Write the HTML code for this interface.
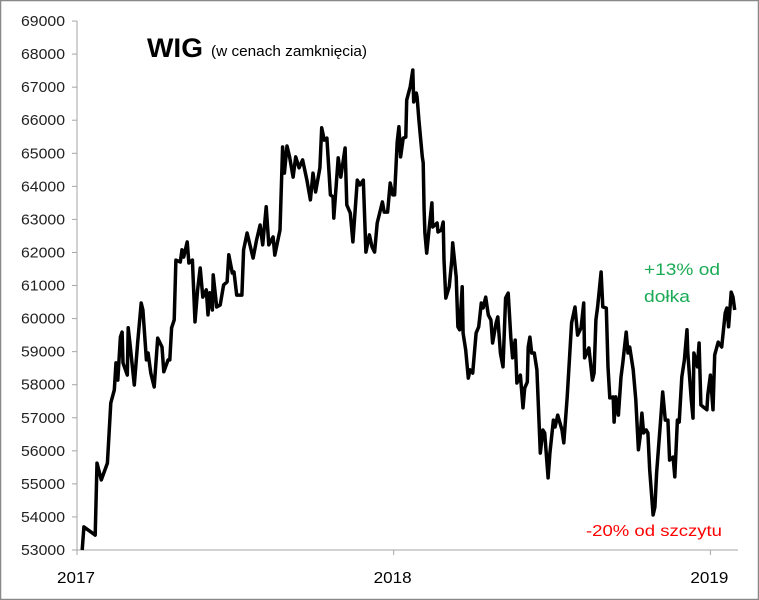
<!DOCTYPE html>
<html><head><meta charset="utf-8">
<style>
html,body{margin:0;padding:0;background:#fff;}
svg{display:block;font-family:"Liberation Sans",sans-serif;}
</style></head>
<body>
<svg width="759" height="600" viewBox="0 0 759 600">
<rect x="0.5" y="0.5" width="758" height="599" fill="#fff" stroke="#888" stroke-width="1.5"/>
<g id="axes"></g>
<text x="147" y="57" font-size="27" font-weight="bold" fill="#000" textLength="56" lengthAdjust="spacingAndGlyphs">WIG</text>
<text x="211" y="56" font-size="15" fill="#000" textLength="156" lengthAdjust="spacingAndGlyphs">(w cenach zamknięcia)</text>
<text x="644" y="275" font-size="17" fill="#1aaa55" textLength="76" lengthAdjust="spacingAndGlyphs">+13% od</text>
<text x="644" y="302" font-size="17" fill="#1aaa55" textLength="46" lengthAdjust="spacingAndGlyphs">dołka</text>
<text x="586" y="536" font-size="16" fill="#ff0000" textLength="136" lengthAdjust="spacingAndGlyphs">-20% od szczytu</text>
<path id="series" fill="none" stroke="#000" stroke-width="3.5" stroke-linejoin="round"/>
</svg>
<script>
const yTicks=[53000,54000,55000,56000,57000,58000,59000,60000,61000,62000,63000,64000,65000,66000,67000,68000,69000];
const xTickYears=[2017,2018,2019];
const xTickLabels=["2017","2018","2019"];
const days=[6,8,21,23,28,35,39,43,45,47,50,52,53,58,59,61,66,70,74,76,80,82,85,89,93,98,100,105,107,109,112,114,119,121,123,127,129,133,136,139,142,145,149,151,153,156,157,161,165,169,173,175,179,181,184,190,192,196,203,207,211,214,218,221,226,228,234,237,239,242,245,249,252,256,260,265,269,272,275,280,282,285,288,292,295,296,301,304,309,311,315,318,323,326,330,333,337,340,343,346,352,354,358,361,364,366,369,371,373,376,379,380,384,387,388,391,392,394,398,399,400,401,403,406,409,410,415,416,420,422,423,425,429,432,433,437,439,441,444,445,448,451,453,456,458,460,463,466,468,471,474,477,479,483,485,488,491,494,497,500,502,505,507,511,514,516,519,520,522,524,527,530,534,537,539,543,545,549,551,554,559,561,565,570,574,577,581,584,585,590,594,596,598,600,604,606,610,612,614,618,619,621,624,627,629,633,635,637,641,644,647,649,651,653,656,658,660,664,666,668,672,675,678,681,683,687,689,692,694,697,700,703,704,708,710,711,715,717,719,723,726,727,730,733,735,739,743,747,749,751,754,756,758];
const values=[53000,53700,53450,55630,55120,55630,57450,57840,58660,58140,59440,59590,58660,58290,59720,59260,57990,59290,60470,60260,58750,58960,58350,57930,59410,59140,58390,58750,58750,59720,59960,61770,61710,62080,61860,62320,61680,61770,59900,60870,61530,60650,60870,60110,60780,60260,61320,60350,60410,61020,61110,61930,61380,61410,60710,60710,62080,62590,61830,62380,62830,62230,63380,62230,62470,61920,62680,65190,64400,65220,64890,64280,64890,64560,64800,64190,63590,64400,63830,64560,65770,65400,65460,63740,63680,63040,64860,64280,65160,63440,63190,62320,64190,64040,64190,62010,62530,62170,62010,62890,63530,63220,63220,64100,63740,63740,65340,65800,64890,65460,65490,66610,67010,67520,66550,66820,66700,66010,64890,64710,63290,62590,61980,62770,63500,62770,62890,62620,62680,62920,61770,60620,60960,61770,62290,61260,59750,59660,60960,59560,59050,58200,58450,58350,58960,59560,59750,60470,60320,60650,60110,59960,59260,59870,60050,58960,58540,60620,60770,59440,58810,59350,58050,58290,57300,57900,58080,59140,59440,58960,58960,58450,55930,56630,56540,55180,55930,56930,56720,57080,56630,56240,57630,59870,60350,59500,59720,60470,58810,59110,58140,58350,59960,60350,61410,60350,60320,58540,57600,57630,56870,57630,57080,58230,58660,59590,58960,59140,58450,57540,56030,56420,57140,56540,56630,56540,55420,54060,54300,55330,56720,57780,56930,56930,55720,55810,55210,56930,56870,58230,58750,59660,58960,57540,56990,58960,58540,59260,57390,57300,57240,57690,58290,57240,58900,59290,59140,60170,60320,59750,60800,60650,60260];

const X0=77, XPY=316.7, Y0=550, PPK=33.06;
function xScale(d){return X0+d/365*XPY;}
function xYear(y){return X0+(y-2017)*XPY;}
function yScale(v){return Y0-(v-53000)/1000*PPK;}
const NS="http://www.w3.org/2000/svg";
const axes=document.getElementById('axes');
function mk(tag,attrs){const e=document.createElementNS(NS,tag);for(const k in attrs)e.setAttribute(k,attrs[k]);return e;}
const yAxis=mk('line',{x1:X0,y1:yScale(69000),x2:X0,y2:Y0,stroke:'#a6a6a6','stroke-width':1});


axes.appendChild(yAxis);
const xAxis=mk('line',{x1:X0,y1:Y0,x2:738,y2:Y0,stroke:'#a6a6a6','stroke-width':1});


axes.appendChild(xAxis);
yTicks.forEach(v=>{
  const y=yScale(v);
  const t=mk('line',{x1:X0-5,y1:y,x2:X0,y2:y,stroke:'#a6a6a6'});
  
  
  axes.appendChild(t);
  const l=mk('text',{x:X0-12,y:y+5,'font-size':15,'text-anchor':'end',fill:'#222',textLength:44,lengthAdjust:'spacingAndGlyphs'});
  l.textContent=String(v);
  
  
  axes.appendChild(l);
});
xTickYears.forEach((yr,i)=>{
  const x=xYear(yr);
  const t=mk('line',{x1:x,y1:Y0,x2:x,y2:Y0+5,stroke:'#a6a6a6'});
  
  
  axes.appendChild(t);
  const l=mk('text',{x:x-1,y:Y0+33,'font-size':16,'text-anchor':'middle',fill:'#000',textLength:38,lengthAdjust:'spacingAndGlyphs'});
  l.textContent=xTickLabels[i];
  
  
  axes.appendChild(l);
});
let d='';
days.forEach((dd,i)=>{d+=(i?'L':'M')+xScale(dd).toFixed(1)+','+yScale(values[i]).toFixed(1);});
document.getElementById('series').setAttribute('d',d);
</script>
</body></html>
